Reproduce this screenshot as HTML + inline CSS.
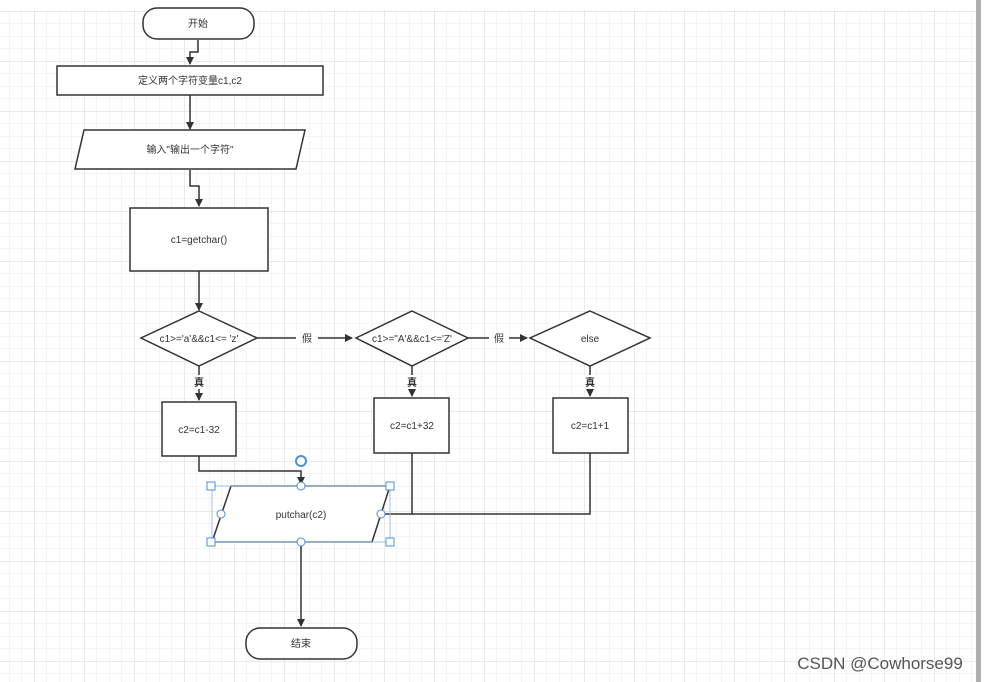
<!DOCTYPE html>
<html><head><meta charset="utf-8"><style>
html,body{margin:0;padding:0;background:#fff;}
svg{display:block;font-family:"Liberation Sans","Noto Sans CJK SC",sans-serif;}
</style></head><body>
<svg width="989" height="682" viewBox="0 0 989 682" xmlns="http://www.w3.org/2000/svg">
<defs>
<pattern id="g" x="9" y="11" width="12.5" height="12.5" patternUnits="userSpaceOnUse">
<path d="M0 0V12.5M0 0H12.5" fill="none" stroke="#ebebeb" stroke-width="1"/>
</pattern>
<pattern id="G" x="34" y="11" width="50" height="50" patternUnits="userSpaceOnUse">
<path d="M0 0V50M0 0H50" fill="none" stroke="#d6d6d6" stroke-width="1"/>
</pattern>
<marker id="a" markerWidth="8" markerHeight="8" refX="7" refY="4" orient="auto" markerUnits="userSpaceOnUse">
<path d="M0,0L8,4L0,8z" fill="#333"/>
</marker>
</defs>
<rect x="0" y="10" width="976" height="672" fill="url(#g)"/>
<rect x="0" y="10" width="976" height="672" fill="url(#G)"/>
<rect x="976" y="0" width="5" height="682" fill="#b0b0b0"/>
<g stroke="#333" stroke-width="1.5" fill="none">
<path d="M198 40V52H190V64" marker-end="url(#a)"/>
<path d="M190 95V129" marker-end="url(#a)"/>
<path d="M190 170V186H199V206" marker-end="url(#a)"/>
<path d="M199 271V310" marker-end="url(#a)"/>
<path d="M257 338H352" marker-end="url(#a)"/>
<path d="M468 338H527" marker-end="url(#a)"/>
<path d="M199 366V400" marker-end="url(#a)"/>
<path d="M412 366V396" marker-end="url(#a)"/>
<path d="M590 366V396" marker-end="url(#a)"/>
<path d="M199 456V471H301V484" marker-end="url(#a)"/>
<path d="M412 453V514H376" marker-end="url(#a)"/>
<path d="M590 453V514H412"/>
<path d="M301 542V626" marker-end="url(#a)"/>
</g>
<g stroke="#333" stroke-width="1.5" fill="#fff">
<rect x="143" y="8" width="111" height="31" rx="14"/>
<rect x="57" y="66" width="266" height="29"/>
<polygon points="84,130 305,130 296,169 75,169"/>
<rect x="130" y="208" width="138" height="63"/>
<polygon points="199,311 257,338 199,366 141,338"/>
<polygon points="412,311 468,338 412,366 356,338"/>
<polygon points="590,311 650,338 590,366 530,338"/>
<rect x="162" y="402" width="74" height="54"/>
<rect x="374" y="398" width="75" height="55"/>
<rect x="553" y="398" width="75" height="55"/>
<polygon points="231,486 390,486 372,542 212,542"/>
<rect x="246" y="628" width="111" height="31" rx="14"/>
</g>
<g fill="#fff" stroke="none">
<rect x="296" y="331" width="22" height="14"/><rect x="489" y="331" width="20" height="14"/>
<rect x="192" y="375" width="14" height="14"/><rect x="405" y="375" width="14" height="14"/><rect x="583" y="375" width="14" height="14"/>
</g>
<g font-size="10" fill="#333" text-anchor="middle">
<text x="198" y="27">开始</text>
<text x="190" y="84">定义两个字符变量c1,c2</text>
<text x="190" y="153">输入"输出一个字符"</text>
<text x="199" y="243">c1=getchar()</text>
<text x="199" y="342">c1&gt;='a'&amp;&amp;c1&lt;=   'z'</text>
<text x="412" y="342">c1&gt;="A'&amp;&amp;c1&lt;='Z'</text>
<text x="590" y="342">else</text>
<text x="307" y="342">假</text><text x="499" y="342">假</text>
<text x="199" y="386" font-weight="bold">真</text><text x="412" y="386" font-weight="bold">真</text><text x="590" y="386" font-weight="bold">真</text>
<text x="199" y="433">c2=c1-32</text>
<text x="412" y="429">c2=c1+32</text>
<text x="590" y="429">c2=c1+1</text>
<text x="301" y="518">putchar(c2)</text>
<text x="301" y="647">结束</text>
</g>
<g stroke="#4a90d9" stroke-width="1" fill="#fff">
<rect x="212" y="486" width="178" height="56" fill="none" stroke="#9cc3ea"/>
<rect x="207" y="482" width="8" height="8"/><rect x="386" y="482" width="8" height="8"/>
<rect x="207" y="538" width="8" height="8"/><rect x="386" y="538" width="8" height="8"/>
<circle cx="301" cy="486" r="4"/><circle cx="301" cy="542" r="4"/>
<circle cx="221" cy="514" r="4"/><circle cx="381" cy="514" r="4"/>
<circle cx="301" cy="461" r="5" stroke-width="2"/>
</g>
<text x="880" y="669" font-size="17" fill="#555" text-anchor="middle">CSDN @Cowhorse99</text>
</svg>
</body></html>
